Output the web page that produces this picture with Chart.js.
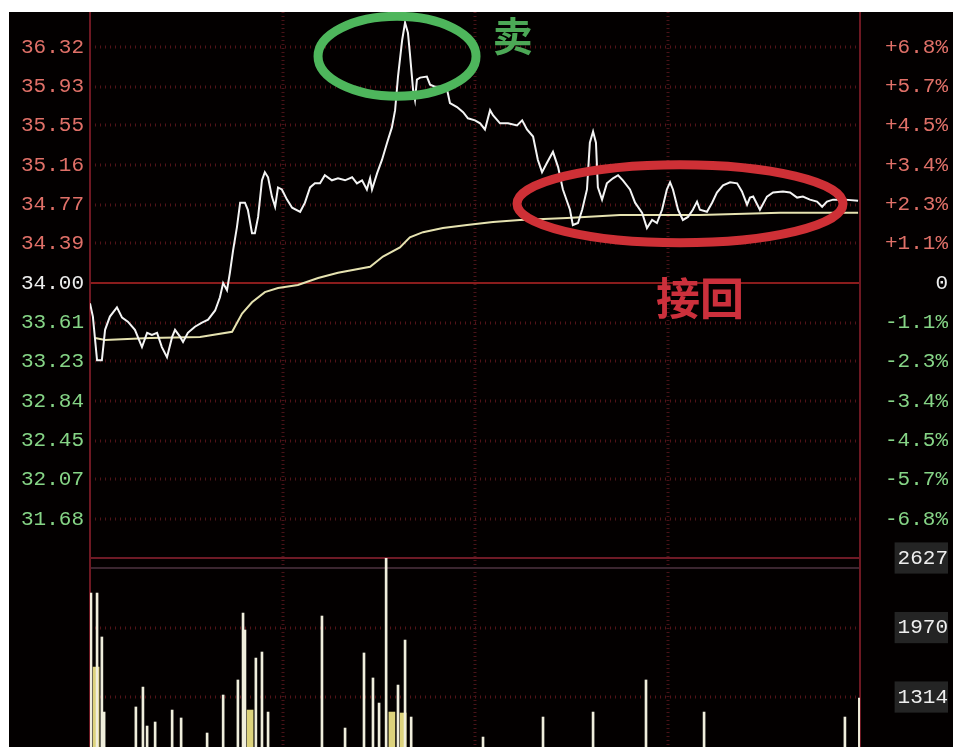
<!DOCTYPE html>
<html><head><meta charset="utf-8">
<script src="https://cdn.jsdelivr.net/npm/chart.js@4"></script>
<style>
html,body{margin:0;padding:0;background:#fff;}
canvas{display:block;}
</style></head><body>
<canvas id="c" width="953" height="747"></canvas>
<script>
// ---- data ----
const prevClose = 34.00;
const priceTicks = [36.32, 35.93, 35.55, 35.16, 34.77, 34.39, 34.00, 33.61, 33.23, 32.84, 32.45, 32.07, 31.68];
const pctLabels = ['+6.8%', '+5.7%', '+4.5%', '+3.4%', '+2.3%', '+1.1%', '0', '-1.1%', '-2.3%', '-3.4%', '-4.5%', '-5.7%', '-6.8%'];
const volTicks = [2627, 1970, 1314];
const hourMarks = [60, 120, 180];

const priceMinutes = [0,0.9,2.2,3.7,4.7,6.2,8.4,10.0,11.8,14.0,
16.2,17.8,19.3,20.9,22.4,24.0,25.6,26.5,28.1,29.0,
30.5,32.7,34.9,36.8,39.0,40.5,41.5,42.7,43.6,44.6,
45.8,46.8,48.3,49.2,50.5,51.4,52.4,53.6,54.5,55.5,
56.7,57.7,58.6,59.8,61.4,63.0,65.5,67.0,68.6,70.1,
71.7,73.2,75.4,77.3,79.5,81.7,83.2,84.8,86.3,87.3,
87.9,89.5,91.0,92.6,94.1,95.1,96.0,97.3,98.2,99.1,
99.7,100.7,101.3,101.9,102.9,105.0,106.0,107.5,109.1,111.3,
112.2,114.4,116.3,117.8,120.0,121.6,123.1,124.7,125.6,127.8,
130.3,133.1,134.7,136.2,138.1,139.6,140.9,142.4,144.3,145.9,
147.4,149.6,150.5,152.1,153.4,154.9,155.8,156.8,157.7,158.3,
159.6,161.1,163.0,164.6,166.1,168.3,169.9,172.1,173.6,175.2,
176.7,178.3,179.8,180.8,181.7,183.3,184.8,186.4,187.9,189.2,
190.1,192.3,193.9,195.4,197.3,199.5,201.7,203.2,204.8,205.7,
206.7,208.8,211.0,212.9,216.0,218.2,220.4,222.2,224.4,226.6,
228.2,229.7,231.6,235.3,239.4];
const priceValues = [33.80,33.67,33.24,33.24,33.54,33.67,33.76,33.66,33.62,33.54,
33.37,33.51,33.49,33.51,33.37,33.27,33.47,33.54,33.47,33.42,
33.51,33.57,33.61,33.64,33.73,33.86,34.00,33.93,34.10,34.32,
34.55,34.79,34.79,34.72,34.49,34.49,34.65,35.01,35.09,35.04,
34.85,34.75,34.94,34.92,34.82,34.74,34.70,34.79,34.94,34.98,
34.98,35.06,35.01,35.03,35.01,35.04,34.98,35.01,34.92,35.03,
34.92,35.08,35.21,35.38,35.53,35.70,36.03,36.39,36.56,36.46,
36.26,35.90,35.80,36.00,36.02,36.03,35.95,35.93,35.93,35.90,
35.77,35.73,35.68,35.62,35.60,35.57,35.51,35.70,35.65,35.57,
35.57,35.55,35.60,35.51,35.44,35.21,35.09,35.18,35.29,35.14,
34.92,34.72,34.57,34.59,34.72,34.92,35.38,35.49,35.38,34.94,
34.82,34.98,35.03,35.06,35.01,34.92,34.79,34.69,34.54,34.62,
34.59,34.72,34.92,34.99,34.92,34.72,34.62,34.65,34.72,34.80,
34.72,34.70,34.79,34.89,34.96,34.99,34.98,34.90,34.77,34.84,
34.85,34.72,34.85,34.89,34.90,34.89,34.84,34.85,34.82,34.80,
34.75,34.80,34.82,34.82,34.81];

const avgMinutes = [1.6,4.7,18.7,34.3,44.3,47.4,50.5,54.5,58.6,64.8,71.1,77.3,87.3,91.3,96.6,99.7,103.8,110.0,117.5,125.6,134.0,148.7,165.2,190.1,215.1,239.4];
const avgValues = [33.46,33.44,33.46,33.47,33.52,33.70,33.81,33.91,33.95,33.98,34.05,34.10,34.16,34.26,34.35,34.45,34.50,34.54,34.57,34.60,34.62,34.64,34.67,34.67,34.69,34.69];

const volMinutes = [0.3,2.2,3.7,4.4,14.3,16.5,17.8,20.3,25.6,28.4,
36.5,41.5,46.1,47.7,48.3,51.7,53.6,55.5,72.3,79.5,
85.4,88.2,90.1,92.3,96.0,98.2,100.1,122.5,141.2,156.8,
173.3,191.4,235.3,239.8];
const volValues = [2296,2296,1881,1172,1220,1408,1040,1078,1191,1116,
974,1333,1475,2107,1947,1682,1739,1172,2079,1021,
1730,1494,1257,2655,1427,1852,1125,936,1125,1172,
1475,1172,1125,1305];
const volYellowMinutes = [1.9, 49.9, 94.1, 97.6];
const volYellowValues = [1597, 1191, 1172, 1163];

// ---- styling ----
const RED_TXT = '#e07068', GREEN_TXT = '#86d486', WHITE_TXT = '#eeeeee';
const tickFont = {family: 'Liberation Mono', size: 21};
const pts = (xs, ys) => xs.map((m, i) => ({x: m, y: ys[i]}));
const tickColor = c => c.tick.value > prevClose ? RED_TXT : (c.tick.value < prevClose ? GREEN_TXT : WHITE_TXT);
const fitTo = w => s => { s.width = w; s.paddingTop = 0; s.paddingBottom = 0; };

const bgPlugin = {
  id: 'bg',
  beforeDraw(chart) {
    const ctx = chart.ctx;
    ctx.save();
    ctx.fillStyle = '#ffffff';
    ctx.fillRect(0, 0, chart.width, chart.height);
    ctx.fillStyle = '#030000';
    ctx.fillRect(9, 12, chart.width - 9, chart.height - 12);
    ctx.restore();
  }
};

const gridPlugin = {
  id: 'grid',
  beforeDatasetsDraw(chart) {
    const {ctx, chartArea: ca, scales} = chart;
    const yP = scales.yP, yV = scales.yV, x = scales.x;
    ctx.save();
    ctx.lineWidth = 3;
    ctx.setLineDash([1, 4]);
    ctx.strokeStyle = '#521318';
    priceTicks.forEach(v => {
      if (v === prevClose) return;
      const y = Math.round(yP.getPixelForValue(v));
      ctx.beginPath(); ctx.moveTo(ca.left, y); ctx.lineTo(ca.right, y); ctx.stroke();
    });
    volTicks.forEach((v, i) => {
      if (i === 0) return;
      const y = Math.round(yV.getPixelForValue(v));
      ctx.beginPath(); ctx.moveTo(ca.left, y); ctx.lineTo(ca.right, y); ctx.stroke();
    });
    ctx.strokeStyle = '#4a1218';
    ctx.setLineDash([1, 3]);
    hourMarks.forEach(m => {
      const px = Math.round(x.getPixelForValue(m));
      ctx.beginPath(); ctx.moveTo(px, ca.top); ctx.lineTo(px, ca.bottom); ctx.stroke();
    });
    ctx.setLineDash([]);
    ctx.lineWidth = 2;
    ctx.strokeStyle = '#8a1c1c';
    const y0 = Math.round(yP.getPixelForValue(prevClose));
    ctx.beginPath(); ctx.moveTo(ca.left, y0); ctx.lineTo(ca.right, y0); ctx.stroke();
    ctx.strokeStyle = '#6e1a26';
    ctx.beginPath(); ctx.moveTo(ca.left, yV.top); ctx.lineTo(ca.right, yV.top); ctx.stroke();
    ctx.strokeStyle = '#3a2630';
    ctx.beginPath(); ctx.moveTo(ca.left, yV.top + 10); ctx.lineTo(ca.right, yV.top + 10); ctx.stroke();
    ctx.strokeStyle = '#6e1822';
    ctx.beginPath(); ctx.moveTo(ca.left, ca.top); ctx.lineTo(ca.left, ca.bottom); ctx.stroke();
    ctx.beginPath(); ctx.moveTo(ca.right, ca.top); ctx.lineTo(ca.right, ca.bottom); ctx.stroke();
    ctx.restore();
  }
};

const annotPlugin = {
  id: 'annot',
  afterDraw(chart) {
    const {ctx, scales} = chart;
    const x = scales.x, yP = scales.yP;
    ctx.save();
    ctx.lineWidth = 9;
    ctx.strokeStyle = 'rgb(78,182,92)';
    ctx.beginPath();
    ctx.ellipse(x.getPixelForValue(95.7), yP.getPixelForValue(36.23), 79, 40, 0, 0, Math.PI * 2);
    ctx.stroke();
    ctx.strokeStyle = 'rgb(206,48,54)';
    ctx.beginPath();
    ctx.ellipse(x.getPixelForValue(183.9), yP.getPixelForValue(34.78), 163, 39, 0, 0, Math.PI * 2);
    ctx.stroke();
    ctx.textAlign = 'center';
    ctx.textBaseline = 'middle';
    ctx.fillStyle = 'rgb(76,168,86)';
    ctx.font = 'bold 40px "Noto Sans CJK SC"';
    ctx.fillText('卖', x.getPixelForValue(131.8), yP.getPixelForValue(36.43));
    ctx.fillStyle = 'rgb(204,48,60)';
    ctx.font = 'bold 44px "Noto Sans CJK SC"';
    ctx.fillText('接回', x.getPixelForValue(190.1), yP.getPixelForValue(33.85));
    ctx.fillStyle = '#ffffff';
    ctx.fillRect(0, 0, chart.width, 12);
    ctx.fillRect(0, 0, 9, chart.height);
    ctx.restore();
  }
};

new Chart(document.getElementById('c'), {
  type: 'bar',
  data: {
    datasets: [
      {type: 'line', data: pts(priceMinutes, priceValues), xAxisID: 'x', yAxisID: 'yP',
       borderColor: '#f4f4f4', borderWidth: 2, pointRadius: 0, tension: 0, order: 0},
      {type: 'line', data: pts(avgMinutes, avgValues), xAxisID: 'x', yAxisID: 'yP',
       borderColor: '#e6e2b0', borderWidth: 2, pointRadius: 0, tension: 0, order: 1},
      {type: 'bar', data: pts(volMinutes, volValues), xAxisID: 'x', yAxisID: 'yV',
       backgroundColor: '#f0eedc', barThickness: 2, stack: 'v', order: 2},
      {type: 'bar', data: pts(volYellowMinutes, volYellowValues), xAxisID: 'x', yAxisID: 'yV',
       backgroundColor: '#ddd37c', barThickness: 6, stack: 'v', order: 3}
    ]
  },
  options: {
    responsive: false,
    animation: false,
    devicePixelRatio: 1,
    layout: {padding: {top: 12, left: 0, right: 5, bottom: 0}},
    plugins: {legend: {display: false}, tooltip: {enabled: false}},
    scales: {
      x: {type: 'linear', min: 0, max: 240, display: false, offset: false},
      yP: {
        type: 'linear', position: 'left', stack: 'L', stackWeight: 546, weight: 1,
        min: 31.296, max: 36.665,
        grid: {display: false, drawTicks: false}, border: {display: false},
        afterBuildTicks: a => { a.ticks = priceTicks.map(v => ({value: v})); },
        afterFit: fitTo(90),
        ticks: {autoSkip: false, padding: 6, font: tickFont, color: tickColor,
                callback: v => Number(v).toFixed(2)}
      },
      yVL: {
        type: 'linear', position: 'left', stack: 'L', stackWeight: 189, weight: 0,
        min: 842, max: 2627,
        grid: {display: false, drawTicks: false}, border: {display: false},
        ticks: {display: false},
        afterFit: fitTo(90)
      },
      yPct: {
        type: 'linear', position: 'right', stack: 'R', stackWeight: 546, weight: 0,
        min: 31.296, max: 36.665,
        grid: {display: false, drawTicks: false}, border: {display: false},
        afterBuildTicks: a => { a.ticks = priceTicks.map(v => ({value: v})); },
        afterFit: fitTo(88),
        ticks: {autoSkip: false, crossAlign: 'far', font: tickFont, color: tickColor,
                callback: (v, i) => pctLabels[i]}
      },
      yV: {
        type: 'linear', position: 'right', stack: 'R', stackWeight: 189, weight: 1,
        min: 842, max: 2627, stacked: false,
        grid: {display: false, drawTicks: false}, border: {display: false},
        afterBuildTicks: a => { a.ticks = volTicks.map(v => ({value: v})); },
        afterFit: fitTo(88),
        ticks: {autoSkip: false, crossAlign: 'far', font: tickFont, color: WHITE_TXT,
                showLabelBackdrop: true, backdropColor: '#242424', backdropPadding: 3,
                callback: v => String(v)}
      }
    }
  },
  plugins: [bgPlugin, gridPlugin, annotPlugin]
});
</script>
</body></html>
